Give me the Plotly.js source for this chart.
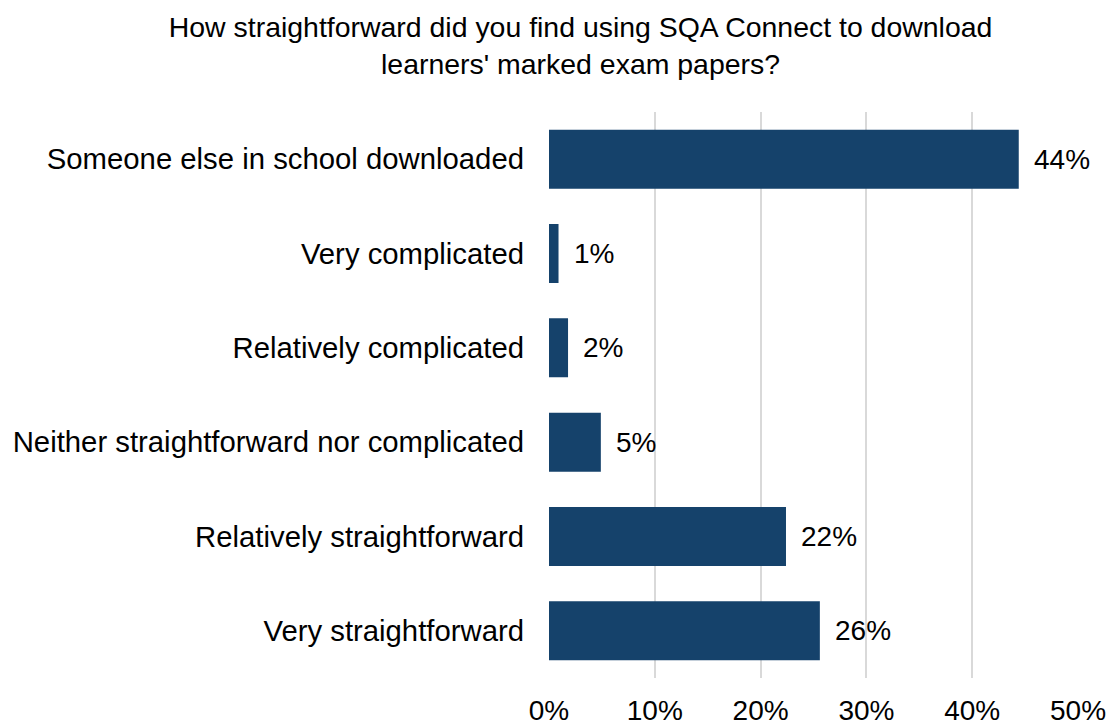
<!DOCTYPE html>
<html>
<head>
<meta charset="utf-8">
<script src="https://cdn.plot.ly/plotly-3.0.1.min.js"></script>
<style>html,body{margin:0;padding:0;background:#fff;}#chart{width:1109px;height:722px;}</style>
</head>
<body>
<div id="chart"></div>
<script>
const categories = [
  "Someone else in school downloaded",
  "Very complicated",
  "Relatively complicated",
  "Neither straightforward nor complicated",
  "Relatively straightforward",
  "Very straightforward"
];
const values = [44.4, 0.9, 1.8, 4.9, 22.4, 25.6];
const valueLabels = ["44%", "1%", "2%", "5%", "22%", "26%"];
const xTickValues = [0, 10, 20, 30, 40, 50];
const xTickLabels = ["0%", "10%", "20%", "30%", "40%", "50%"];
const titleText = "How straightforward did you find using SQA Connect to download<br>learners' marked exam papers?";

const FONT = "Liberation Sans, Arial, sans-serif";

const trace = {
  type: "bar",
  orientation: "h",
  x: values,
  y: categories,
  marker: {color: "#15426b"},
  hoverinfo: "skip"
};

const annotations = categories.map((c, i) => ({
  x: values[i], y: c, xref: "x", yref: "y",
  text: valueLabels[i], showarrow: false,
  xanchor: "left", yanchor: "middle", xshift: 13,
  font: {family: FONT, size: 28, color: "#000"}
}));

const layout = {
  width: 1109, height: 722,
  paper_bgcolor: "#fff", plot_bgcolor: "#fff",
  margin: {l: 549, r: 31, t: 112, b: 44},
  showlegend: false,
  bargap: 0.374,
  title: {
    text: titleText,
    font: {family: FONT, size: 28.45, color: "#000"},
    x: 0.5235, xref: "container", xanchor: "center",
    y: 0.9488, yref: "container", yanchor: "middle"
  },
  xaxis: {
    range: [0, 50], tickvals: xTickValues, ticktext: xTickLabels,
    showgrid: true, gridcolor: "#d9d9d9", gridwidth: 2,
    zeroline: false, showline: false,
    ticks: "", ticklabelstandoff: 13,
    tickfont: {family: FONT, size: 28, color: "#000"},
    fixedrange: true
  },
  yaxis: {
    autorange: "reversed", showgrid: false, zeroline: false, showline: false,
    ticks: "", ticklabelstandoff: 24,
    tickfont: {family: FONT, size: 29.3, color: "#000"},
    fixedrange: true
  },
  annotations: annotations
};

Plotly.newPlot("chart", [trace], layout, {displayModeBar: false, staticPlot: true});
</script>
</body>
</html>
